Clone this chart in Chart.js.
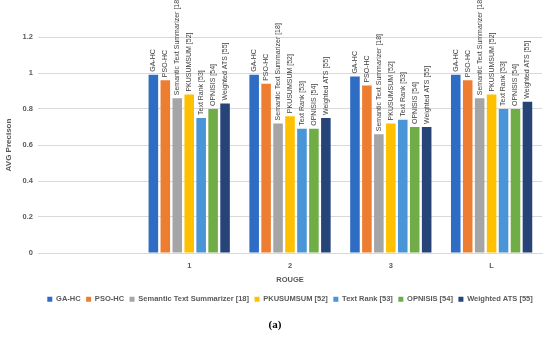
<!DOCTYPE html>
<html>
<head>
<meta charset="utf-8">
<script src="https://cdn.jsdelivr.net/npm/chart.js@4"></script>
<style>
  html, body { margin:0; padding:0; background:#fff; }
  #wrap { position:relative; width:550px; height:340px; }
  #cap { position:absolute; left:0; width:550px; top:318px; text-align:center;
         font-family:'Liberation Serif', 'DejaVu Serif', serif; font-weight:bold; font-size:11px; color:#000; }
</style>
</head>
<body>
<div id="wrap">
  <canvas id="c" width="550" height="340"></canvas>
  <div id="cap">(a)</div>
</div>
<script>
// ROUGE categories (first slot is empty in the original figure)
const categories = ['', '1', '2', '3', 'L'];
const seriesNames = ['GA-HC', 'PSO-HC', 'Semantic Text Summarizer [18]', 'PKUSUMSUM [52]', 'Text Rank [53]', 'OPNISIS [54]', 'Weighted ATS [55]'];
const gaHC      = [null, 0.99, 0.99, 0.98, 0.99];
const psoHC     = [null, 0.96, 0.94, 0.93, 0.96];
const semantic  = [null, 0.86, 0.72, 0.66, 0.86];
const pkusumsum = [null, 0.88, 0.76, 0.72, 0.88];
const textRank  = [null, 0.75, 0.69, 0.74, 0.80];
const opnisis   = [null, 0.80, 0.69, 0.70, 0.80];
const weighted  = [null, 0.83, 0.75, 0.70, 0.84];
const yTicks = [0, 0.2, 0.4, 0.6, 0.8, 1, 1.2];

const colors = ['#2f6cc4', '#ed7d31', '#a5a5a5', '#ffc000', '#4a94d8', '#70ad47', '#264478'];
const values = [gaHC, psoHC, semantic, pkusumsum, textRank, opnisis, weighted];
const FONT = '"Liberation Sans", Arial, sans-serif';

// draws series name rotated above every bar
const barNames = {
  id: 'barNames',
  afterDatasetsDraw(chart) {
    const ctx = chart.ctx;
    ctx.save();
    ctx.font = '7px ' + FONT;
    ctx.fillStyle = '#404040';
    chart.data.datasets.forEach((ds, i) => {
      chart.getDatasetMeta(i).data.forEach((bar, j) => {
        if (ds.data[j] == null) return;
        ctx.save();
        ctx.translate(bar.x, bar.y - 3);
        ctx.rotate(-Math.PI / 2);
        ctx.textAlign = 'left';
        ctx.textBaseline = 'middle';
        ctx.fillText(ds.label, 0, 0);
        ctx.restore();
      });
    });
    ctx.restore();
  }
};

new Chart(document.getElementById('c'), {
  type: 'bar',
  data: {
    labels: categories,
    datasets: seriesNames.map((n, i) => ({
      label: n, data: values[i], backgroundColor: colors[i],
      categoryPercentage: 0.83, barPercentage: 0.8
    }))
  },
  options: {
    responsive: false, animation: false,
    layout: { padding: { top: 37, right: 8, left: 0, bottom: 27 } },
    plugins: {
      tooltip: { enabled: false },
      legend: {
        position: 'bottom', fullSize: false,
        labels: { boxWidth: 5, boxHeight: 5, padding: 5.5, color: '#595959',
                  font: { family: FONT, size: 7.5, weight: 'bold' } }
      }
    },
    scales: {
      x: {
        grid: { display: false },
        border: { color: '#d9d9d9' },
        ticks: { color: '#595959', padding: 0, font: { family: FONT, size: 7.5, weight: 'bold' } },
        title: { display: true, text: 'ROUGE', color: '#595959', padding: { top: 5, bottom: 6 },
                 font: { family: FONT, size: 7.5, weight: 'bold' } }
      },
      y: {
        min: 0, max: 1.2,
        afterBuildTicks: ax => { ax.ticks = yTicks.map(v => ({ value: v })); },
        grid: { color: '#d9d9d9', drawTicks: false },
        border: { display: false },
        ticks: { color: '#595959', padding: 5, callback: v => String(v),
                 font: { family: FONT, size: 7.5, weight: 'bold' } },
        title: { display: true, text: 'AVG Precison', color: '#595959', padding: { top: 4, bottom: 4 },
                 font: { family: FONT, size: 8, weight: 'bold' } }
      }
    }
  },
  plugins: [barNames]
});
</script>
</body>
</html>
